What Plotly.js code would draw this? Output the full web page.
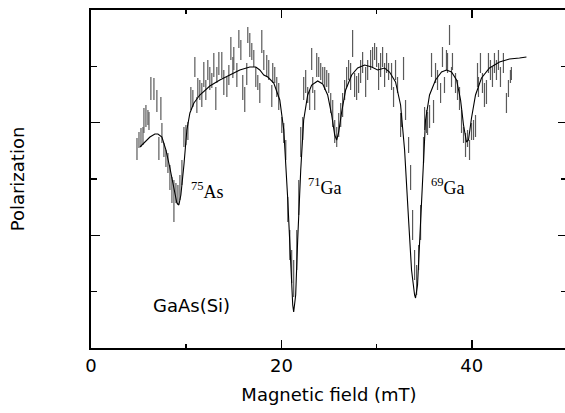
<!DOCTYPE html>
<html>
<head>
<meta charset="utf-8">
<script src="https://cdn.plot.ly/plotly-3.0.1.min.js"></script>
<style>
html,body{margin:0;padding:0;overflow:hidden;background:#fff;}
#chart{width:570px;height:413px;}
</style>
</head>
<body>
<div id="chart"></div>
<script>
// Measured points: magnetic field (mT), polarization (arb. units), half error bar
const fieldB = [4.83,5.04,5.25,5.46,5.56,5.77,5.98,6.09,6.29,6.61,6.92,7.13,7.34,7.45,7.66,7.87,8.08,8.29,8.50,8.71,8.92,9.13,9.34,9.55,9.76,9.97,10.18,10.49,10.70,10.91,11.12,11.22,11.43,11.64,11.85,12.06,12.27,12.48,12.69,12.90,13.11,13.22,13.43,13.74,13.95,14.27,14.48,14.69,14.90,15.00,15.32,15.53,15.74,15.94,16.15,16.36,16.47,16.68,16.89,17.10,17.31,17.52,17.73,17.94,18.15,18.46,18.67,18.99,19.09,19.30,19.51,19.72,20.04,20.25,20.46,20.67,20.88,21.08,21.29,21.61,21.82,22.03,22.24,22.34,22.55,22.76,22.97,23.18,23.29,23.50,23.71,23.92,24.13,24.34,24.55,24.76,24.97,25.18,25.39,25.60,25.81,26.02,26.23,26.43,26.64,26.85,27.06,27.27,27.48,27.69,27.90,28.11,28.32,28.53,28.85,29.06,29.37,29.58,29.79,30.00,30.21,30.42,30.63,30.84,31.05,31.26,31.57,31.78,31.99,32.20,32.52,32.62,32.83,33.04,33.36,33.57,33.78,33.99,34.20,34.41,34.62,34.93,35.04,35.25,35.35,35.56,35.77,35.98,36.19,36.40,36.72,36.92,37.13,37.34,37.45,37.66,37.87,37.97,38.29,38.50,38.71,38.92,39.13,39.34,39.55,39.76,39.97,40.18,40.39,40.60,40.70,40.91,41.12,41.33,41.54,41.75,41.96,42.17,42.38,42.59,42.80,43.01,43.32,43.64,43.85,44.06,44.16];
const polarization = [199,208,210.5,212,227.5,232,230.5,227,259.5,259,247,199.5,239.5,215,198,189.5,185,170.5,158,147,155,153,160.5,175.5,211,213,217,249.5,249.5,281,243,260.5,258,253,273.5,258,278,269.5,267.5,283,249.5,273,284.5,283,265.5,261,273,299.5,280.5,289.5,273,309,298,260.5,248.5,274,313,303,296.5,289.5,271,265.5,255,306.5,288,282,278,252,275,273,261,251.5,223,215,198,138.5,103,81.5,69.5,98,150.5,206,219.5,259.5,266.5,253,248,289,263,248,283,281,276.5,273,269.5,269.5,265,245,234.5,216.5,211,223,233,243,258,271,278,271.5,304.5,263,260,265,276.5,285.5,266,278,288,291,296.5,291,271.5,283,291,273,285,276.5,271.5,251,278,263,223,228,279.5,238,203,170.5,123,83,68,90.5,125.5,198,229.5,226.5,224.5,231.5,283,236.5,275,268,255,291,263,288,285,313,271,286.5,265,258,249.5,226.5,213,203,209.5,198,216.5,218,222,273,261,285,265,253,256,285,278,271,285,278,288,271,285,245,259.5,271.5,274.5];
const polErr = [11,8,9.5,9,12.5,11,7.5,9,11.5,11,11,11.5,11.5,10,7,8.5,10,12.5,13,21,10,10,12.5,12.5,10,10,9,11.5,8.5,10,8,9.5,10,12,12.5,10,10,11.5,7.5,12,11.5,8,11.5,13,12.5,10,10,11.5,10.5,11.5,12,9,10,12.5,12.5,11,8,12,8.5,8.5,10,7.5,10,11.5,10,11,10,11,10,8,10,13.5,8,10,10,12.5,15,16.5,18.5,20,17.5,15,11.5,11.5,11.5,8,10,11,8,10,12,10,8.5,8,11.5,8.5,10,10,13.5,11.5,10,12,12,12,10,10,10,13.5,13.5,12,12,10,11.5,10.5,15,10,10,10,8.5,10,13.5,12,10,12,10,8.5,13.5,10,10,8,12,7,11.5,10,8,12.5,15,15,15,12.5,17.5,13,11.5,11.5,11.5,11.5,12,11.5,10,10,10,10,8,10,10,10,10,8.5,10,10,11.5,11.5,8,12,8.5,10,8.5,10,11,12,10,10,10,12,12,10,10,10,10,10,10,10,10,10,8.5,6.5,6.5];

// Fitted curve
const fitB = [5.14,5.66,6.19,6.71,7.03,7.45,7.87,8.29,8.71,9.02,9.23,9.44,9.76,10.07,10.39,10.81,11.43,12.48,13.53,14.59,15.63,16.68,17.31,17.73,18.15,18.57,19.20,19.83,20.25,20.67,20.98,21.19,21.29,21.50,21.71,22.03,22.34,22.76,23.18,23.81,24.34,24.86,25.28,25.60,25.81,26.02,26.33,26.75,27.38,28.01,28.74,29.48,30.11,30.84,31.36,31.99,32.52,32.94,33.36,33.67,33.99,34.09,34.30,34.51,34.83,35.14,35.56,36.19,36.82,37.34,37.87,38.40,38.82,39.13,39.44,39.65,39.97,40.39,41.02,41.86,42.91,43.96,45.01,45.74];
const fitP = [201,206,211,214,214,211,198,180,160,145,143,153,183,218,235,245,253,262,268,273,278,281,281,278,273,271,265,248,218,148,78,43,36,53,108,178,228,253,263,267,264,253,233,213,208,216,236,258,273,280,283,281,278,280,276,266,243,198,128,78,53,50,63,108,178,228,253,268,276,278,276,268,248,223,206,208,230,253,270,280,286,289,290,291];

const xTickVals = [0,20,40];
const xTickText = ['0','20','40'];
const xMinorVals = [10,30];
const yMajorVals = [112.67,225.33];
const yMinorVals = [56.33,169,281.67];

const labels = [
  {x:12.2, y:158, text:'<sup>75</sup>As'},
  {x:24.6, y:162, text:'<sup>71</sup>Ga'},
  {x:37.5, y:162, text:'<sup>69</sup>Ga'}
];

const traces = [
  {
    x: fieldB, y: polarization, type:'scatter', mode:'markers',
    marker:{size:2, color:'rgba(0,0,0,0)'},
    error_y:{type:'data', array: polErr, visible:true, color:'#5a5a5a', thickness:1.2, width:0},
    hoverinfo:'skip', showlegend:false
  },
  {
    x: fitB, y: fitP, type:'scatter', mode:'lines',
    line:{color:'#000', width:1.1}, showlegend:false
  }
];

const annotations = labels.map(l => ({
  x:l.x, y:l.y, xref:'x', yref:'y', text:l.text, showarrow:false,
  font:{family:'Liberation Serif, serif', size:18, color:'#000'}
}));
annotations.push({
  x:10.6, y:43, xref:'x', yref:'y', text:'GaAs(Si)', showarrow:false,
  font:{family:'DejaVu Sans, sans-serif', size:18, color:'#000'}
});

const layout = {
  width:570, height:413,
  margin:{l:91, r:3, t:10, b:65},
  paper_bgcolor:'#fff', plot_bgcolor:'#fff',
  showlegend:false,
  font:{family:'DejaVu Sans, sans-serif', size:18, color:'#000'},
  xaxis:{
    range:[0,50], showgrid:false, zeroline:false,
    showline:true, linecolor:'#000', linewidth:2, mirror:'ticks',
    ticks:'inside', ticklen:8, tickwidth:1.5, tickcolor:'#000',
    tickmode:'array', tickvals:xTickVals, ticktext:xTickText,
    minor:{tickmode:'array', tickvals:xMinorVals, ticks:'inside', ticklen:4, tickwidth:1.5, tickcolor:'#000', showgrid:false},
    tickfont:{size:18},
    title:{text:'Magnetic field (mT)', font:{size:18}, standoff:14}
  },
  yaxis:{
    range:[0,338], showgrid:false, zeroline:false,
    showline:true, linecolor:'#000', linewidth:2, mirror:'ticks',
    ticks:'inside', ticklen:9, tickwidth:1.5, tickcolor:'#000',
    tickmode:'array', tickvals:yMajorVals, showticklabels:false,
    minor:{tickmode:'array', tickvals:yMinorVals, ticks:'inside', ticklen:6, tickwidth:1.5, tickcolor:'#000', showgrid:false},
    title:{text:'Polarization', font:{size:18}, standoff:60}
  },
  annotations: annotations
};

Plotly.newPlot('chart', traces, layout, {displayModeBar:false, staticPlot:true});
</script>
</body>
</html>
